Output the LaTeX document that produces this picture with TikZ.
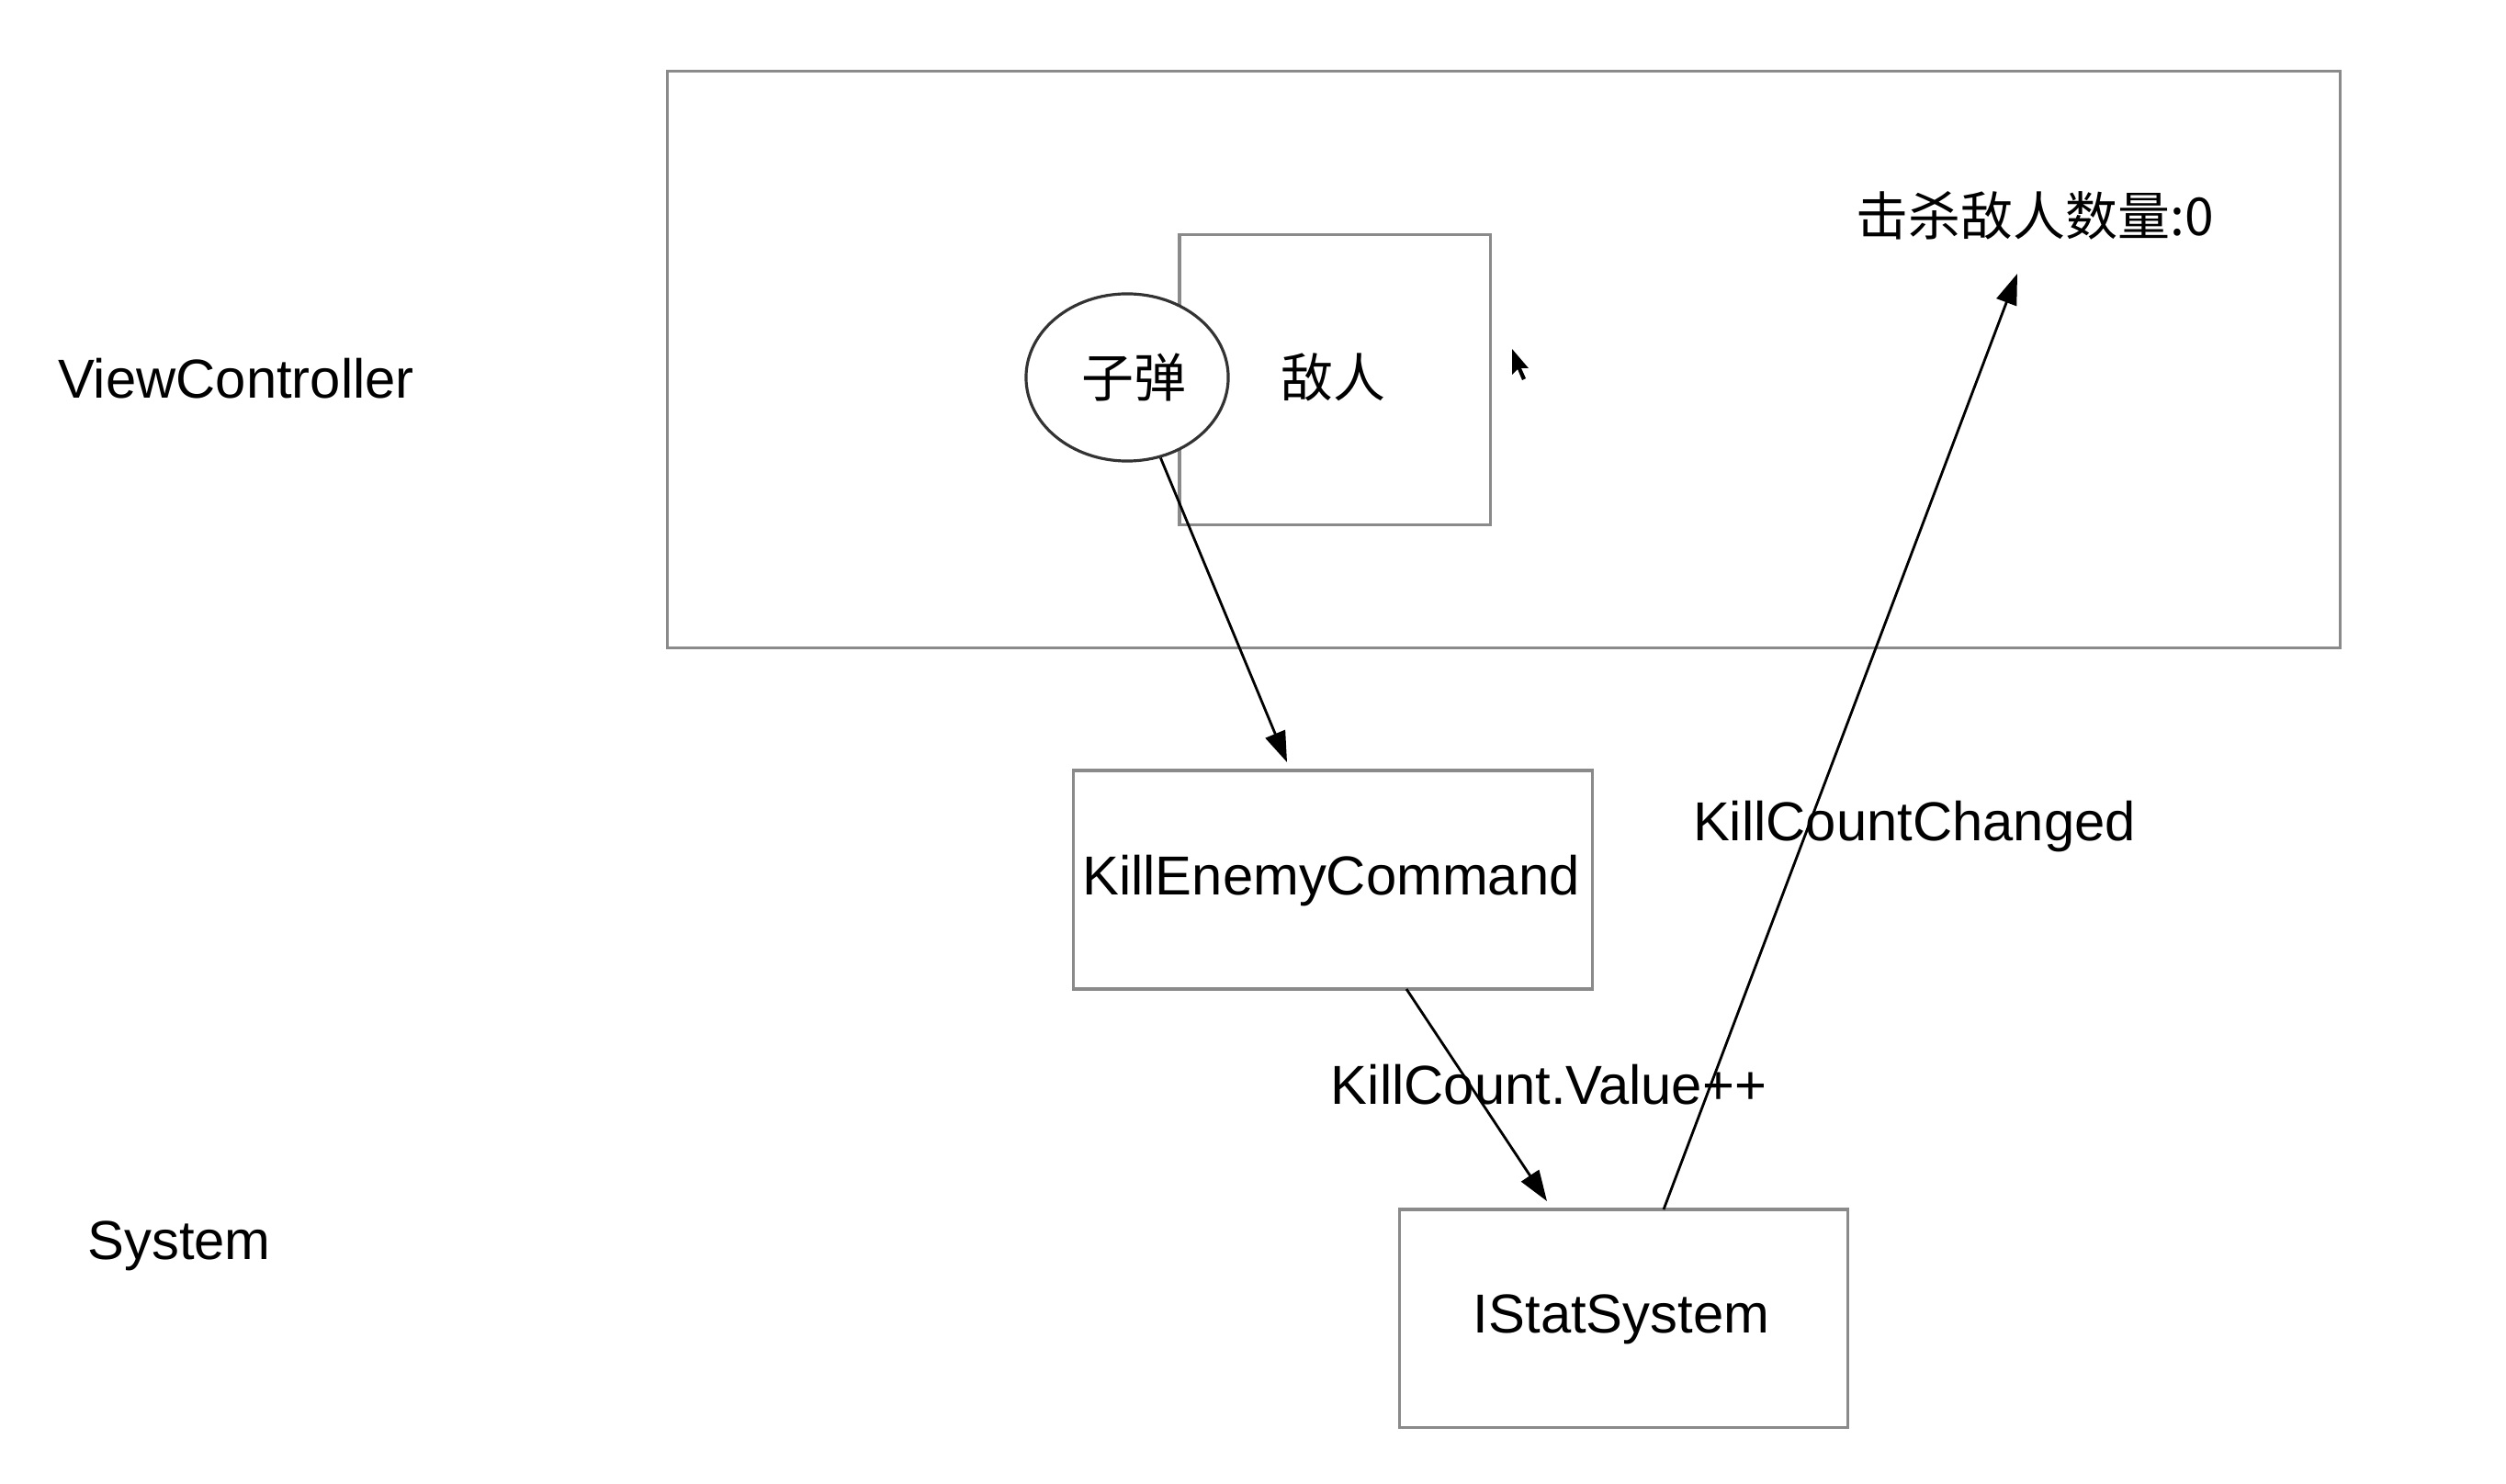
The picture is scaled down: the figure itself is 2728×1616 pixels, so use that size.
\documentclass[tikz,border=0pt]{standalone}
\usepackage{fontspec}
\setmainfont{Liberation Sans}
\newfontfamily\cjk{Noto Sans CJK SC}
\usetikzlibrary{arrows.meta,shapes.geometric}
\definecolor{boxgray}{HTML}{8A8A8A}
\tikzset{
  box/.style={draw=boxgray,line width=0.9pt,rectangle,inner sep=0pt},
  lbl/.style={inner sep=0pt,font=\fontsize{17}{19}\selectfont},
  cjklbl/.style={inner sep=0pt,font=\cjk\fontsize{16.2}{18}\selectfont},
  arr/.style={draw=black,line width=0.8pt,-{Triangle[length=9.5pt,width=6.5pt]}},
}
\begin{document}
\begin{tikzpicture}[x=0.01cm,y=-0.01cm]
\useasboundingbox[fill=white] (0,0) rectangle (2728,1616);
% frame
\node[box,minimum width=18.20cm,minimum height=6.27cm] (frame) at (1637,391.5) {};
% enemy
\node[box,minimum width=3.38cm,minimum height=3.15cm] (enemy) at (1453,413.5) {};
\node[cjklbl] (enemyt) at (1451,411) {敌人};
% bullet
\node[ellipse,draw=black!80,line width=0.9pt,fill=white,minimum width=2.20cm,minimum height=1.82cm,inner sep=0pt] (bullet) at (1227,411) {};
\node[cjklbl] (bullett) at (1234,411) {子弹};
% count label
\node[cjklbl] (count) at (2215,235) {击杀敌人数量:0};
% side labels
\node[lbl] (vc) at (257,412) {ViewController};
\node[lbl] (sys) at (195,1357) {System};
% command and system boxes
\node[box,minimum width=5.64cm,minimum height=2.38cm] (kec) at (1451,958) {};
\node[lbl] (kect) at (1449,959) {KillEnemyCommand};
\node[box,minimum width=4.87cm,minimum height=2.37cm] (istat) at (1767.5,1435.5) {};
\node[lbl] (istatt) at (1765,1437) {IStatSystem};
% connector ends
\coordinate (a1e) at (1401,830);
\coordinate (a2s) at (1531,1077);
\coordinate (a2e) at (1684,1308);
\coordinate (a3s) at (1811,1317);
\coordinate (a3e) at (2196,298);
\draw[arr] (bullet) -- (a1e);
\draw[arr] (a2s) -- (a2e);
\draw[arr] (a3s) -- (a3e);
% edge labels
\node[lbl] (l1) at (1686,1181) {KillCount.Value++};
\node[lbl] (l2) at (2084,900) {KillCountChanged};
% mouse cursor
\fill[black] (1646,380) -- (1646,408) -- (1652,402) -- (1657,414) -- (1661,412) -- (1656,401) -- (1664,401) -- cycle;
\end{tikzpicture}
\end{document}
